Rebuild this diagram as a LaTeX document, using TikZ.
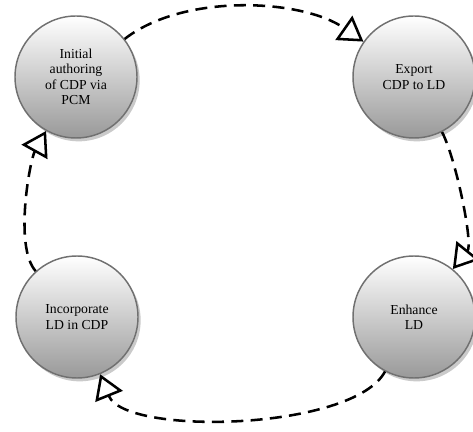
\documentclass[tikz,border=0pt]{standalone}
\usepackage{fontspec}
\setmainfont{Liberation Serif}
\usepackage{tikz}
\usetikzlibrary{arrows.meta, shadows}
\tikzset{every node/.append style={font=\fontsize{10.3}{11.6}\selectfont}}
\tikzset{
    stage/.style={circle, minimum size=91.5pt, inner sep=0pt, align=center,
        draw=black!56, line width=1.1pt, top color=white, bottom color=black!40,
        drop shadow={shadow xshift=2pt, shadow yshift=-2.5pt, fill=black!35, opacity=0.6}},
    flow/.style={dashed, dash pattern=on 9pt off 5.5pt, line width=1.9pt, looseness=0.6,
        -{Triangle[open, length=18pt, width=22pt]}}
}

\begin{document}
\begin{tikzpicture}[x=0.75pt, y=0.75pt]
    \useasboundingbox (0,0) rectangle (473,431);
    % the four stages
    \node[stage] (author) at (76,354) {Initial\\authoring\\of CDP via\\PCM};
    \node[stage] (export) at (414,354) {Export\\CDP to LD};
    \node[stage] (enhance) at (414,114) {Enhance\\LD};
    \node[stage] (merge) at (77,114) {Incorporate\\LD in CDP};
    % the cycle, clockwise
    \draw[flow, looseness=0.8] (author) to[out=38, in=145] (export);
    \draw[flow] (export) to[out=-63, in=51] (enhance);
    \draw[flow] (enhance) to[out=-118, in=-68] (merge);
    \draw[flow] (merge) to[out=132, in=-119] (author);
\end{tikzpicture}
\end{document}
